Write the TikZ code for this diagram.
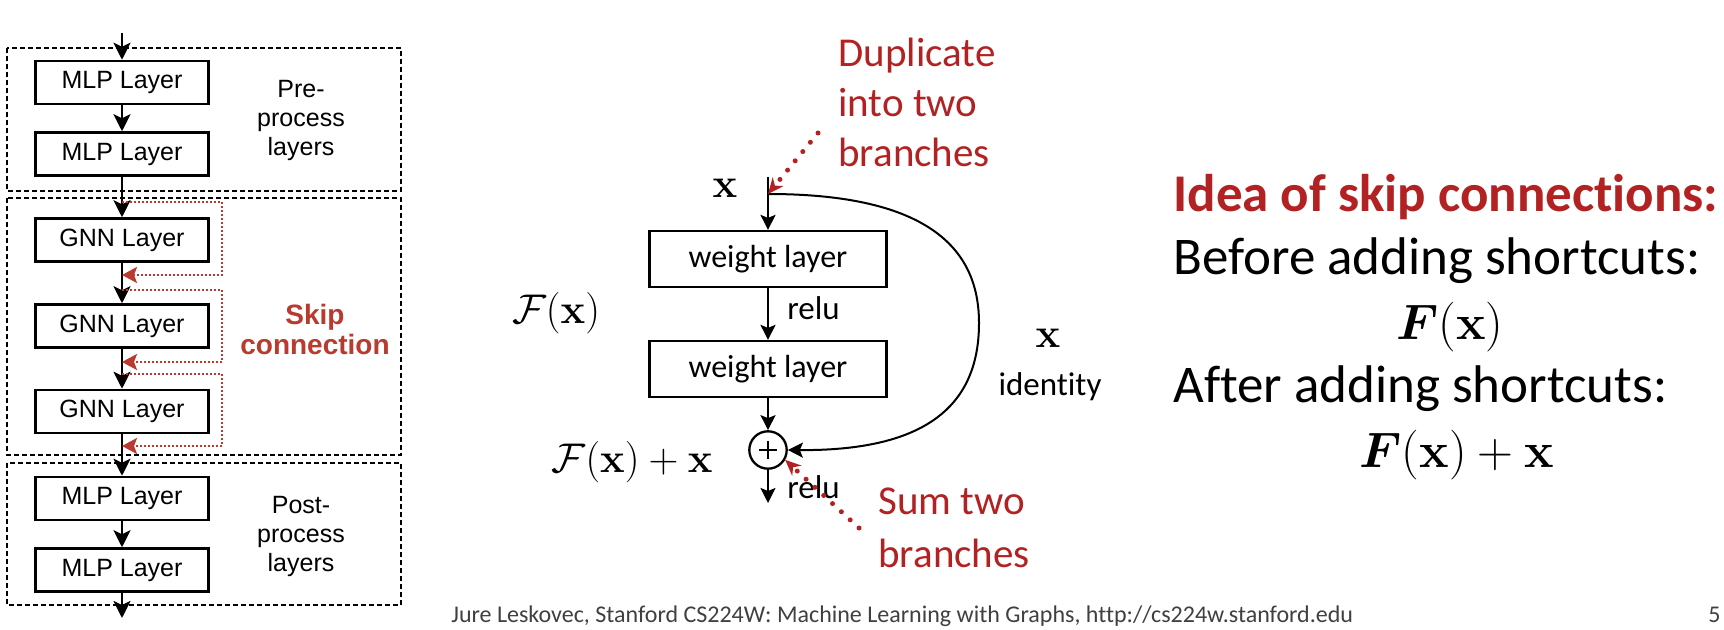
\documentclass[tikz,border=0pt]{standalone}
\usepackage{amsmath}
\usepackage[no-math]{fontspec}
\setmainfont{Carlito}[Ligatures=NoCommon]
\newfontfamily\arialf{Liberation Sans}
\usetikzlibrary{arrows.meta}
\definecolor{annred}{RGB}{178,34,34}
\definecolor{skipred}{RGB}{185,58,47}
\definecolor{footgray}{RGB}{64,64,64}
\begin{document}
\begin{tikzpicture}[x=0.5pt,y=-0.5pt,
  layerbox/.style={draw, line width=1.25pt, minimum width=86.5pt, minimum height=21.5pt, inner sep=0pt, font=\arialf\fontsize{12.5}{15}\selectfont},
  flow/.style={line width=1.25pt, -{Stealth[length=8.5pt,width=8.5pt,inset=2pt]}},
  group/.style={line width=0.6pt, dash pattern=on 2.5pt off 1.5pt},
  skiploop/.style={skipred, line width=1.2pt, dash pattern=on 1pt off 1pt, -{Stealth[length=7.5pt,width=8pt,inset=1.5pt]}},
  sidetext/.style={font=\arialf\fontsize{12.5}{15}\selectfont, anchor=base, inner sep=0pt},
  skiptext/.style={font=\arialf\bfseries\fontsize{14}{16}\selectfont, text=skipred, anchor=base, inner sep=0pt},
  wbox/.style={draw, line width=1.1pt, minimum width=118.5pt, minimum height=28pt, inner sep=0pt, font=\fontsize{16}{19}\selectfont},
  mflow/.style={line width=1pt, -{Stealth[length=7.5pt,width=7.5pt,inset=1.5pt]}},
  midtext/.style={font=\fontsize{16.5}{19}\selectfont, anchor=base west, inner sep=0pt},
  mathlbl/.style={font=\fontsize{19.5}{23}\selectfont, inner sep=0pt},
  anntext/.style={font=\fontsize{20.5}{25}\selectfont, text=annred, anchor=base west, inner sep=0pt},
  annarrow/.style={annred, line width=2.5pt, line cap=round, dash pattern=on 0pt off 6pt, -{Stealth[length=8pt,width=7pt,line width=0pt]}},
  bigtext/.style={font=\fontsize{26.5}{32}\selectfont, anchor=base west, inner sep=0pt},
  bigmath/.style={font=\fontsize{26.5}{32}\selectfont, anchor=base, inner sep=0pt}
]
\useasboundingbox[fill=white] (0,0) rectangle (1724,630);

% ---------- left column ----------
\draw[group] (7,48) rectangle (401,191);
\draw[group] (7,198) rectangle (401,455);
\draw[group] (7,463) rectangle (401,605);

\node[layerbox] (mlp1) at (122,82.5) {MLP Layer};
\node[layerbox] (mlp2) at (122,154) {MLP Layer};
\node[layerbox] (gnn1) at (122,240) {GNN Layer};
\node[layerbox] (gnn2) at (122,326) {GNN Layer};
\node[layerbox] (gnn3) at (122,411.5) {GNN Layer};
\node[layerbox] (mlp3) at (122,498.5) {MLP Layer};
\node[layerbox] (mlp4) at (122,570) {MLP Layer};

\coordinate (lin) at (122,33);
\coordinate (lout) at (122,618);
\draw[flow] (lin) -- (mlp1.north);
\draw[flow] (mlp1.south) -- (mlp2.north);
\draw[flow] (mlp2.south) -- (gnn1.north);
\draw[flow] (gnn1.south) -- (gnn2.north);
\draw[flow] (gnn2.south) -- (gnn3.north);
\draw[flow] (gnn3.south) -- (mlp3.north);
\draw[flow] (mlp3.south) -- (mlp4.north);
\draw[flow] (mlp4.south) -- (lout);

\coordinate (sa1) at (122,202); \coordinate (sb1) at (122,275);
\coordinate (sa2) at (122,290); \coordinate (sb2) at (122,362);
\coordinate (sa3) at (122,374); \coordinate (sb3) at (122,446);
\draw[skiploop] (sa1) -- (222,202) |- (sb1);
\draw[skiploop] (sa2) -- (222,290) |- (sb2);
\draw[skiploop] (sa3) -- (222,374) |- (sb3);

\node[sidetext] (pre1) at (301,98) {Pre-};
\node[sidetext] (pre2) at (301,127) {process};
\node[sidetext] (pre3) at (301,156) {layers};
\node[skiptext] (sk1) at (315,325) {Skip};
\node[skiptext] (sk2) at (315,355) {connection};
\node[sidetext] (post1) at (301,513) {Post-};
\node[sidetext] (post2) at (301,542) {process};
\node[sidetext] (post3) at (301,571) {layers};

% ---------- middle residual block ----------
\node[wbox] (w1) at (768,259) {weight layer};
\node[wbox] (w2) at (768,369) {weight layer};
\node[draw, circle, line width=1.15pt, minimum size=18.7pt, inner sep=0pt] (sum) at (768,450) {};
\draw[line width=1.1pt] (sum.center) ++(-9,0) -- ++(18,0);
\draw[line width=1.1pt] (sum.center) ++(0,-9) -- ++(0,18);

\coordinate (min) at (768,177);
\coordinate (split) at (768,194);
\coordinate (mout) at (768,503);
\draw[mflow] (min) -- (w1.north);
\draw[mflow] (w1.south) -- (w2.north);
\draw[mflow] (w2.south) -- (sum.north);
\draw[mflow] (sum.south) -- (mout);
\draw[mflow] (split) .. controls (930,194) and (979,250) .. (979,323)
                     .. controls (979,410) and (920,451) .. (sum.east);

\node[midtext] (relu1) at (787,320) {relu};
\node[midtext] (relu2) at (787,498) {relu};
\node[midtext, anchor=center] (ident) at (1050,387) {identity};
\node[mathlbl] (xin) at (725,188) {$\mathbf{x}$};
\node[mathlbl] (xid) at (1048,338) {$\mathbf{x}$};
\node[mathlbl] (fx) at (556,313) {$\mathcal{F}(\mathbf{x})$};
\node[mathlbl] (fxx) at (632,462) {$\mathcal{F}(\mathbf{x})+\mathbf{x}$};

% annotations
\node[anntext] (dup1) at (838,67) {Duplicate};
\node[anntext] (dup2) at (838,117) {into two};
\node[anntext] (dup3) at (838,167) {branches};
\node[anntext] (sum1) at (878,515) {Sum two};
\node[anntext] (sum2) at (878,567) {branches};
\coordinate (dupstart) at (818,133);
\coordinate (sumstart) at (859,528);
\draw[annarrow] (dupstart) -- (split);
\draw[annarrow] (sumstart) -- (sum.-30);

% ---------- right text ----------
\node[bigtext, font=\bfseries\fontsize{26.5}{32}\selectfont, text=annred] (idea) at (1173,212) {Idea of skip connections:};
\node[bigtext] (before) at (1173,275) {Before adding shortcuts:};
\node[bigmath] (eq1) at (1450,340) {$\boldsymbol{F}(\mathbf{x})$};
\node[bigtext] (after) at (1173,403) {After adding shortcuts:};
\node[bigmath] (eq2) at (1457,467) {$\boldsymbol{F}(\mathbf{x})+\mathbf{x}$};

% ---------- footer ----------
\node[font=\fontsize{12}{14}\selectfont, text=footgray, anchor=base west, inner sep=0pt] (foot) at (451,622) {Jure Leskovec, Stanford CS224W: Machine Learning with Graphs, http://cs224w.stanford.edu};
\node[font=\fontsize{12}{14}\selectfont, text=footgray, anchor=base west, inner sep=0pt] (pageno) at (1708,622) {5};
\end{tikzpicture}
\end{document}
